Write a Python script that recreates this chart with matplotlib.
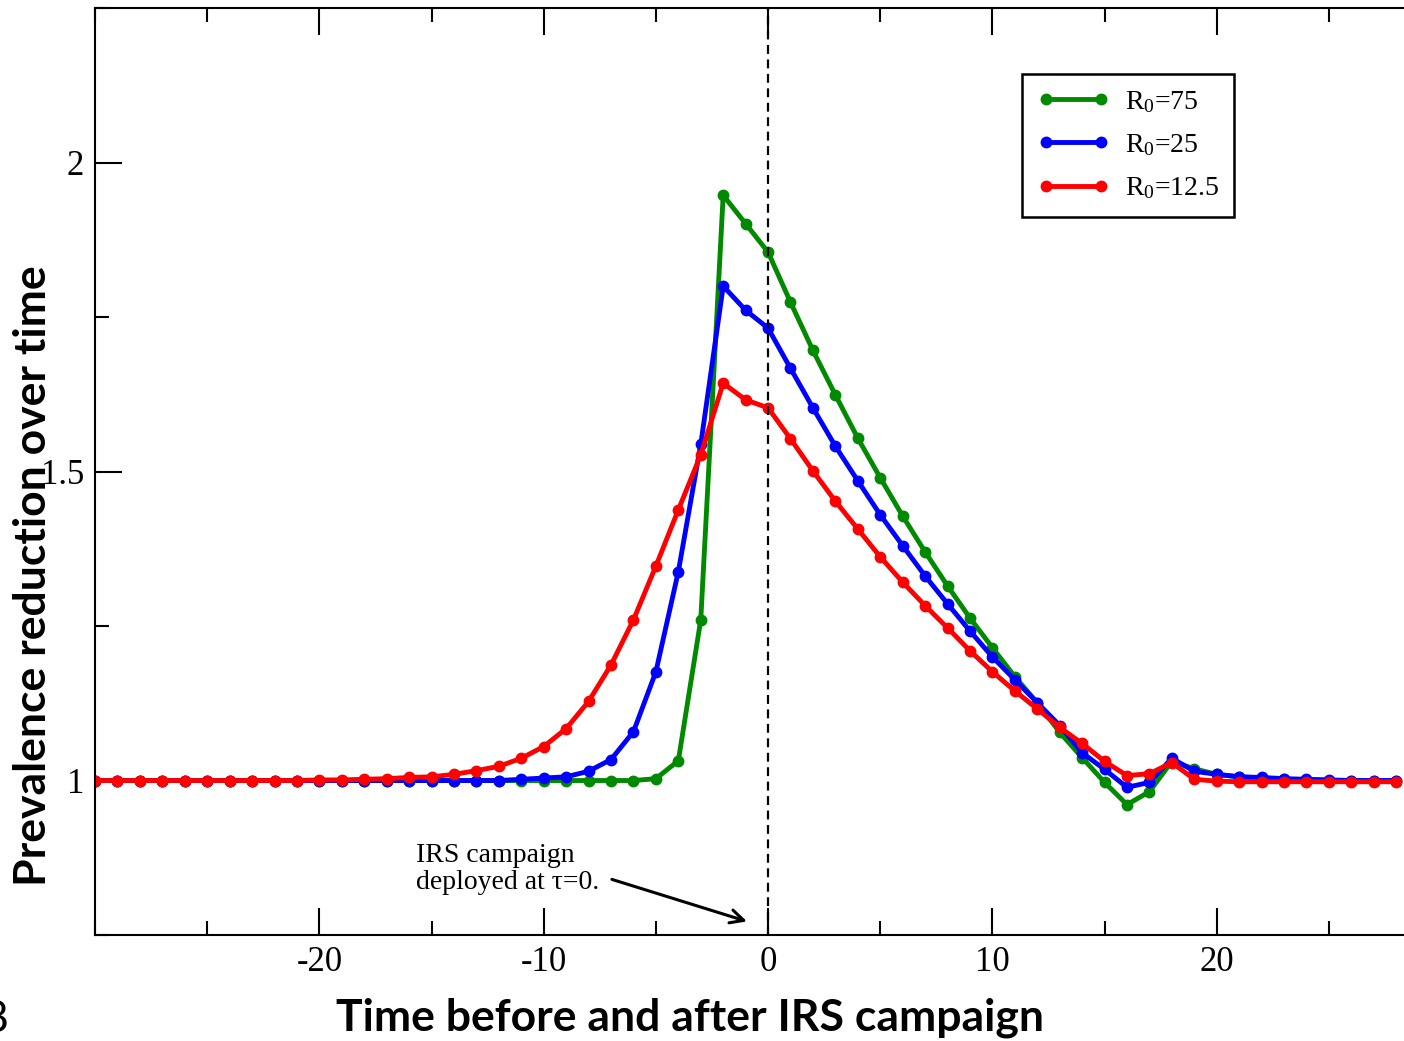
import numpy as np
import matplotlib
matplotlib.use('Agg')
import matplotlib.pyplot as plt
from matplotlib.ticker import MultipleLocator

plt.rcParams['mathtext.fontset'] = 'custom'
plt.rcParams['mathtext.rm'] = 'Liberation Serif'
plt.rcParams['mathtext.it'] = 'Liberation Serif:italic'
plt.rcParams['axes.unicode_minus'] = False

# time axis, one point per step
t = list(range(-30, 29))

# R0 = 75
green = [1.0] * 25 + [1.003, 1.032, 1.26, 1.947, 1.901, 1.855, 1.774, 1.696, 1.624,
                      1.554, 1.49, 1.428, 1.37, 1.315, 1.263, 1.215, 1.168, 1.126,
                      1.078, 1.037, 0.997, 0.961, 0.982, 1.031, 1.019, 1.01, 1.006,
                      1.004, 1.002, 1.001, 1.0, 1.0, 1.0, 1.0]
# R0 = 25
blue = [1.0] * 19 + [1.002, 1.004, 1.006, 1.015, 1.034, 1.079, 1.176, 1.338, 1.544,
                     1.80, 1.761, 1.732, 1.667, 1.603, 1.541, 1.485, 1.43, 1.38,
                     1.331, 1.286, 1.242, 1.2, 1.163, 1.126, 1.089, 1.045, 1.018,
                     0.989, 0.997, 1.036, 1.015, 1.01, 1.006, 1.005, 1.003, 1.002,
                     1.001, 1.0, 1.0, 1.0]
# R0 = 12.5
red = [1.0] * 10 + [1.001, 1.001, 1.002, 1.003, 1.005, 1.006, 1.01, 1.016, 1.023,
                    1.036, 1.055, 1.084, 1.128, 1.187, 1.26, 1.347, 1.438, 1.527,
                    1.643, 1.616, 1.603, 1.553, 1.501, 1.452, 1.407, 1.362, 1.321,
                    1.283, 1.247, 1.21, 1.176, 1.145, 1.116, 1.086, 1.06, 1.031,
                    1.008, 1.011, 1.029, 1.002, 0.999, 0.998, 0.998, 0.998, 0.998,
                    0.998, 0.998, 0.998, 0.998]

labels = ['R$_0$=75', 'R$_0$=25', 'R$_0$=12.5']
colors = ['#008a00', '#0000ff', '#ff0000']
xticks = [-20, -10, 0, 10, 20]
yticks = [1, 1.5, 2]

fig = plt.figure(figsize=(14.04, 10.41), dpi=100)
ax = fig.add_axes([0.0677, 0.1018, 0.9587, 0.8905])

for y, c, lab in zip([green, blue, red], colors, labels):
    ax.plot(t, y, '-o', color=c, lw=3.5, ms=7.5, label=lab)

ax.axvline(0, color='black', lw=1.6, ls=(0, (4, 2.5)))

ax.set_xlim(-30, 30)
ax.set_ylim(0.75, 2.25)
ax.set_xticks(xticks)
ax.set_xticklabels([str(v) for v in xticks])
ax.xaxis.set_minor_locator(MultipleLocator(5))
ax.set_yticks(yticks)
ax.set_yticklabels(['1', '1.5', '2'])
ax.yaxis.set_minor_locator(MultipleLocator(0.25))
ax.tick_params(which='both', direction='in', top=True, right=True, width=1.5,
               labelsize=25, pad=8)
ax.tick_params(which='major', length=19.5)
ax.tick_params(which='minor', length=10)
for lbl in ax.get_xticklabels() + ax.get_yticklabels():
    lbl.set_family('Liberation Serif')
for sp in ax.spines.values():
    sp.set_linewidth(1.5)

ax.annotate('', xy=(-0.94, 0.772), xytext=(-6.96, 0.84),
            arrowprops=dict(arrowstyle='->', color='black', lw=2.2,
                            mutation_scale=24, shrinkA=0, shrinkB=0))
ax.text(-15.7, 0.857, 'IRS campaign\ndeployed at τ=0.', fontsize=20,
        family='Liberation Serif', ha='left', va='center', linespacing=1.1)

leg = ax.legend(loc='upper left', bbox_to_anchor=(0.728, 0.929),
                bbox_transform=fig.transFigure, borderaxespad=0, numpoints=2,
                fancybox=False, edgecolor='black', framealpha=1, borderpad=0.55,
                handlelength=2.6, handletextpad=0.55,
                prop={'family': 'Liberation Serif', 'size': 20}, labelspacing=0.62)
leg.get_frame().set_linewidth(1.8)

fig.text(0.0235, 0.447, 'Prevalence reduction over time', rotation=90, fontsize=32,
         fontweight='bold', family='Lato', ha='center', va='center')
fig.text(0.4915, 0.022, 'Time before and after IRS campaign', fontsize=32,
         fontweight='bold', family='Lato', ha='center', va='center')
fig.text(-0.012, 0.021, '8', fontsize=32, family='Lato', ha='left', va='center')

fig.savefig('out.png', dpi=100)
